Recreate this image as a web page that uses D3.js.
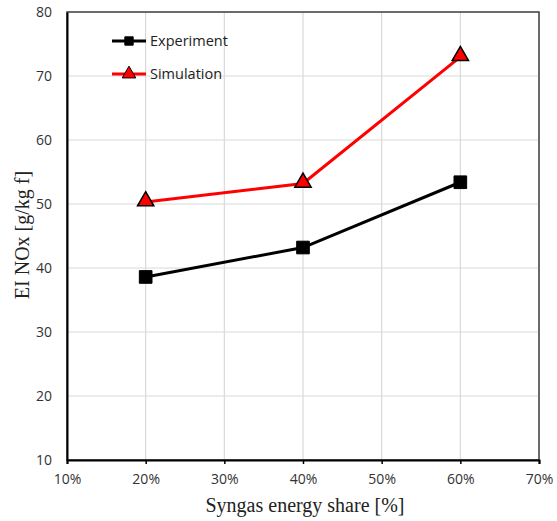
<!DOCTYPE html>
<html><head><meta charset="utf-8">
<script src="https://cdn.jsdelivr.net/npm/d3@7"></script>
<style>body{margin:0;background:#fff}svg{display:block}</style>
</head><body>
<svg id="c" width="557" height="521"></svg>
<script>
const shares = [20, 40, 60];
const experiment = [38.6, 43.2, 53.4];
const simulation = [50.3, 53.2, 73.0];
const xTicks = [10, 20, 30, 40, 50, 60, 70];
const yTicks = [10, 20, 30, 40, 50, 60, 70, 80];
const seriesNames = ["Experiment", "Simulation"];

const svg = d3.select("#c");
const L = 67, R = 539, T = 12, B = 460;
const x = d3.scaleLinear().domain([10, 70]).range([L, R]);
const y = d3.scaleLinear().domain([10, 80]).range([B, T]);

// gridlines
svg.append("g").selectAll("line").data(xTicks).join("line")
  .attr("x1", d => x(d)).attr("x2", d => x(d)).attr("y1", T).attr("y2", B)
  .attr("stroke", "#d9d9d9").attr("stroke-width", 1.2);
svg.append("g").selectAll("line").data(yTicks).join("line")
  .attr("x1", L).attr("x2", R).attr("y1", d => y(d)).attr("y2", d => y(d))
  .attr("stroke", "#d9d9d9").attr("stroke-width", 1.2);

// frame
svg.append("rect").attr("x", L).attr("y", T).attr("width", R - L).attr("height", B - T)
  .attr("fill", "none").attr("stroke", "#404040").attr("stroke-width", 1.5);

// axes
const xAxis = d3.axisBottom(x).tickValues(xTicks).tickFormat(d => d + "%").tickSize(4);
const gx = svg.append("g").attr("transform", `translate(0,${B})`).call(xAxis);
const yAxis = d3.axisLeft(y).tickValues(yTicks).tickSize(0).tickPadding(15);
const gy = svg.append("g").attr("transform", `translate(${L},0)`).call(yAxis);
[gx, gy].forEach(g => {
  g.select(".domain").attr("stroke", "#000").attr("stroke-width", 2);
  g.selectAll(".tick line").attr("stroke", "#000").attr("stroke-width", 1.5);
  g.selectAll("text").attr("font-family", "'Open Sans', 'Liberation Sans', sans-serif")
    .attr("font-size", 14).attr("fill", "#333");
});
gx.selectAll("text").attr("font-size", 14).attr("dy", "1.2em");

// axis titles
svg.append("text").attr("x", (L + R) / 2 + 2).attr("y", 512).attr("text-anchor", "middle")
  .attr("font-family", "'Liberation Serif', 'Times New Roman', serif").attr("font-size", 20)
  .attr("fill", "#222").text("Syngas energy share [%]");
svg.append("text").attr("transform", `translate(29,235) rotate(-90)`)
  .attr("text-anchor", "middle")
  .attr("font-family", "'Liberation Serif', 'Times New Roman', serif").attr("font-size", 20)
  .attr("fill", "#222").text("EI NOx [g/kg f]");

const line = d3.line().x(d => x(d[0])).y(d => y(d[1]));
const expData = shares.map((s, i) => [s, experiment[i]]);
const simData = shares.map((s, i) => [s, simulation[i]]);

svg.append("path").datum(expData).attr("d", line).attr("fill", "none")
  .attr("stroke", "#000").attr("stroke-width", 3);
svg.append("path").datum(simData).attr("d", line).attr("fill", "none")
  .attr("stroke", "#ff0000").attr("stroke-width", 3);

const sq = d3.symbol().type(d3.symbolSquare).size(160);
const tri = d3.symbol().type(d3.symbolTriangle).size(115);

svg.append("g").selectAll("path").data(expData).join("path")
  .attr("transform", d => `translate(${x(d[0])},${y(d[1])})`)
  .attr("d", sq).attr("fill", "#000").attr("stroke", "#000").attr("stroke-width", 1);
svg.append("g").selectAll("path").data(simData).join("path")
  .attr("transform", d => `translate(${x(d[0])},${y(d[1]) - 1})`)
  .attr("d", tri).attr("fill", "#ff0000").attr("stroke", "#000").attr("stroke-width", 1.5);

// legend
const leg = [{name: seriesNames[0], color: "#000", sym: d3.symbol().type(d3.symbolSquare).size(70), fill: "#000", yy: 41},
             {name: seriesNames[1], color: "#ff0000", sym: d3.symbol().type(d3.symbolTriangle).size(80), fill: "#ff0000", yy: 74}];
leg.forEach(l => {
  svg.append("line").attr("x1", 112).attr("x2", 146).attr("y1", l.yy).attr("y2", l.yy)
    .attr("stroke", l.color).attr("stroke-width", 3);
  svg.append("path").attr("transform", `translate(129,${l.yy})`).attr("d", l.sym)
    .attr("fill", l.fill).attr("stroke", "#000").attr("stroke-width", 1);
  svg.append("text").attr("x", 150).attr("y", l.yy + 5)
    .attr("font-family", "'Open Sans', 'Liberation Sans', sans-serif").attr("font-size", 14.5)
    .attr("fill", "#222").text(l.name);
});
</script>
</body></html>
